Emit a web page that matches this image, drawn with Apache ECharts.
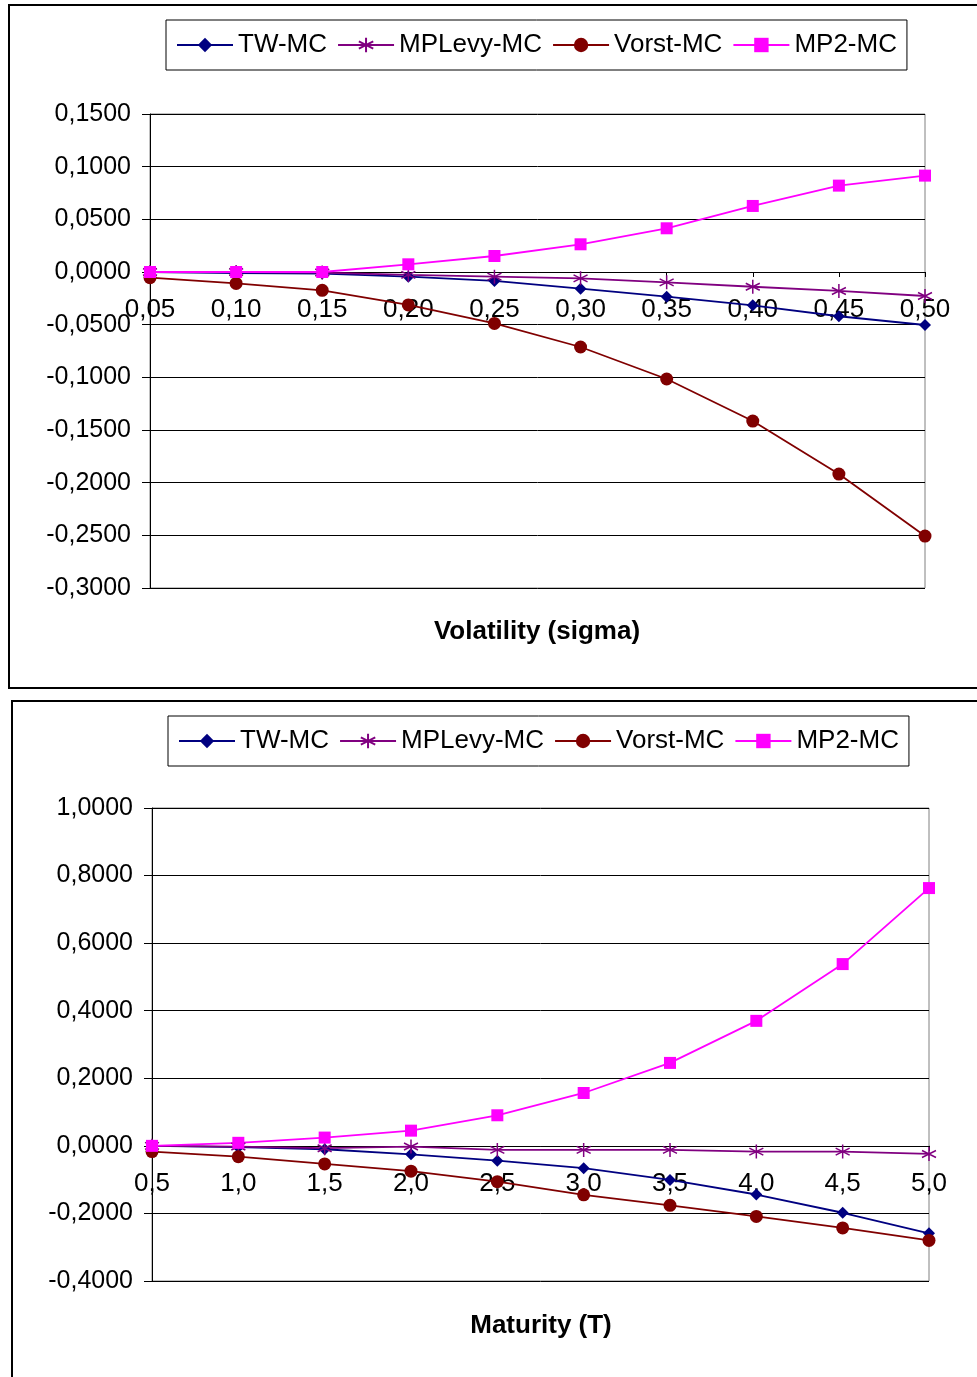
<!DOCTYPE html>
<html>
<head>
<meta charset="utf-8">
<script src="https://cdn.jsdelivr.net/npm/echarts@6/dist/echarts.min.js"></script>
<style>
html,body{margin:0;padding:0;background:#fff;}
#chart{width:977px;height:1377px;}
</style>
</head>
<body>
<div id="chart"></div>
<script>
// ---- data ----
const seriesNames = ['TW-MC', 'MPLevy-MC', 'Vorst-MC', 'MP2-MC'];

const sigmaCats = ['0,05', '0,10', '0,15', '0,20', '0,25', '0,30', '0,35', '0,40', '0,45', '0,50'];
const twSigma     = [0, -0.001, -0.0015, -0.0044, -0.0085, -0.0158, -0.0234, -0.0316, -0.042, -0.0503];
const mplevySigma = [0, 0, -0.0005, -0.0028, -0.0044, -0.006, -0.0098, -0.014, -0.018, -0.0228];
const vorstSigma  = [-0.0054, -0.0108, -0.0174, -0.0313, -0.0488, -0.0712, -0.1016, -0.1415, -0.1918, -0.2507];
const mp2Sigma    = [0, 0, 0, 0.0073, 0.0152, 0.0263, 0.0415, 0.0627, 0.082, 0.0915];

const maturityCats = ['0,5', '1,0', '1,5', '2,0', '2,5', '3,0', '3,5', '4,0', '4,5', '5,0'];
const twMat     = [0, -0.004, -0.010, -0.025, -0.044, -0.066, -0.101, -0.144, -0.198, -0.259];
const mplevyMat = [0, -0.002, -0.007, -0.002, -0.012, -0.012, -0.012, -0.017, -0.017, -0.024];
const vorstMat  = [-0.017, -0.032, -0.0535, -0.075, -0.106, -0.145, -0.176, -0.209, -0.243, -0.28];
const mp2Mat    = [0, 0.009, 0.0245, 0.045, 0.0905, 0.1565, 0.2455, 0.37, 0.538, 0.763];

const xTitles = ['Volatility (sigma)', 'Maturity (T)'];
const yRanges = [[-0.3, 0.15, 0.05], [-0.4, 1.0, 0.2]];

// ---- styles ----
const FONT = '"Liberation Sans", Arial, sans-serif';
const colors = ['#000080', '#800080', '#800000', '#FF00FF'];
const starPath = 'path://M5,0L5,10M0.7,2.5L9.3,7.5M0.7,7.5L9.3,2.5';
const symbols = ['diamond', starPath, 'circle', 'rect'];
const symbolSizes = [12, 14, 13, 12];

function fmt(v) {
  let r = Math.round(v * 10000) / 10000;
  if (Math.abs(r) < 1e-9) r = 0;
  return r.toFixed(4).replace('.', ',');
}

function makeSeries(idx, datasets) {
  return datasets.map((d, i) => ({
    name: seriesNames[i],
    type: 'line',
    xAxisIndex: idx,
    yAxisIndex: idx,
    data: d,
    symbol: symbols[i],
    symbolSize: symbolSizes[i],
    showAllSymbol: true,
    animation: false,
    lineStyle: { color: colors[i], width: 1.8 },
    itemStyle: i === 1
      ? { color: 'rgba(0,0,0,0)', borderColor: colors[i], borderWidth: 1.5 }
      : { color: colors[i], borderWidth: 0 },
    emphasis: { disabled: true }
  }));
}

const grids = [
  { left: 150, top: 114, width: 775, height: 474 },
  { left: 152, top: 808, width: 777, height: 473 }
];

// place the category axis on the zero line of the value axis
function zeroOffset(idx) {
  const g = grids[idx], r = yRanges[idx];
  return -g.height * (0 - r[0]) / (r[1] - r[0]);
}

function xAxis(idx, cats) {
  return {
    type: 'category', gridIndex: idx, data: cats, boundaryGap: false,
    position: 'bottom', offset: zeroOffset(idx),
    axisLine: { onZero: false, lineStyle: { color: '#000', width: 1 } },
    axisTick: { show: true, length: 5, inside: false, alignWithLabel: true, lineStyle: { color: '#000' } },
    axisLabel: { color: '#000', fontFamily: FONT, fontSize: 26, margin: 25, interval: 0 },
    splitLine: { show: false }
  };
}

function yAxis(idx) {
  const r = yRanges[idx];
  return {
    type: 'value', gridIndex: idx, min: r[0], max: r[1], interval: r[2],
    axisLine: { show: true, lineStyle: { color: '#000', width: 1 } },
    axisTick: { show: true, length: 8, lineStyle: { color: '#000' } },
    axisLabel: { color: '#000', fontFamily: FONT, fontSize: 25, margin: 19, formatter: fmt },
    splitLine: { show: true, lineStyle: { color: '#000', width: 1 } }
  };
}

function legend(left, top) {
  return {
    data: seriesNames, left: left, top: top, orient: 'horizontal',
    padding: [12, 10, 12, 10], itemGap: 10, itemWidth: 56, itemHeight: 18,
    borderColor: '#000', borderWidth: 1, backgroundColor: '#fff',
    selectedMode: false,
    textStyle: { color: '#000', fontFamily: FONT, fontSize: 26 }
  };
}

const option = {
  animation: false,
  backgroundColor: '#fff',
  grid: grids.map(g => Object.assign({ show: true, borderColor: '#808080', borderWidth: 1, backgroundColor: 'transparent' }, g)),
  xAxis: [xAxis(0, sigmaCats), xAxis(1, maturityCats)],
  yAxis: [yAxis(0), yAxis(1)],
  legend: [legend(166, 20), legend(168, 716)],
  series: makeSeries(0, [twSigma, mplevySigma, vorstSigma, mp2Sigma])
    .concat(makeSeries(1, [twMat, mplevyMat, vorstMat, mp2Mat])),
  graphic: [
    { type: 'rect', shape: { x: 9, y: 5, width: 990, height: 683 }, style: { fill: 'none', stroke: '#000', lineWidth: 2 }, z: 0, silent: true },
    { type: 'rect', shape: { x: 12, y: 701, width: 990, height: 700 }, style: { fill: 'none', stroke: '#000', lineWidth: 2 }, z: 0, silent: true },
    { type: 'text', x: 537, y: 632, style: { text: xTitles[0], fill: '#000', font: 'bold 26px ' + FONT, textAlign: 'center', textVerticalAlign: 'middle' }, silent: true },
    { type: 'text', x: 541, y: 1326, style: { text: xTitles[1], fill: '#000', font: 'bold 26px ' + FONT, textAlign: 'center', textVerticalAlign: 'middle' }, silent: true }
  ]
};

const chart = echarts.init(document.getElementById('chart'), null, { renderer: 'canvas', width: 977, height: 1377 });
chart.setOption(option);
</script>
</body>
</html>
